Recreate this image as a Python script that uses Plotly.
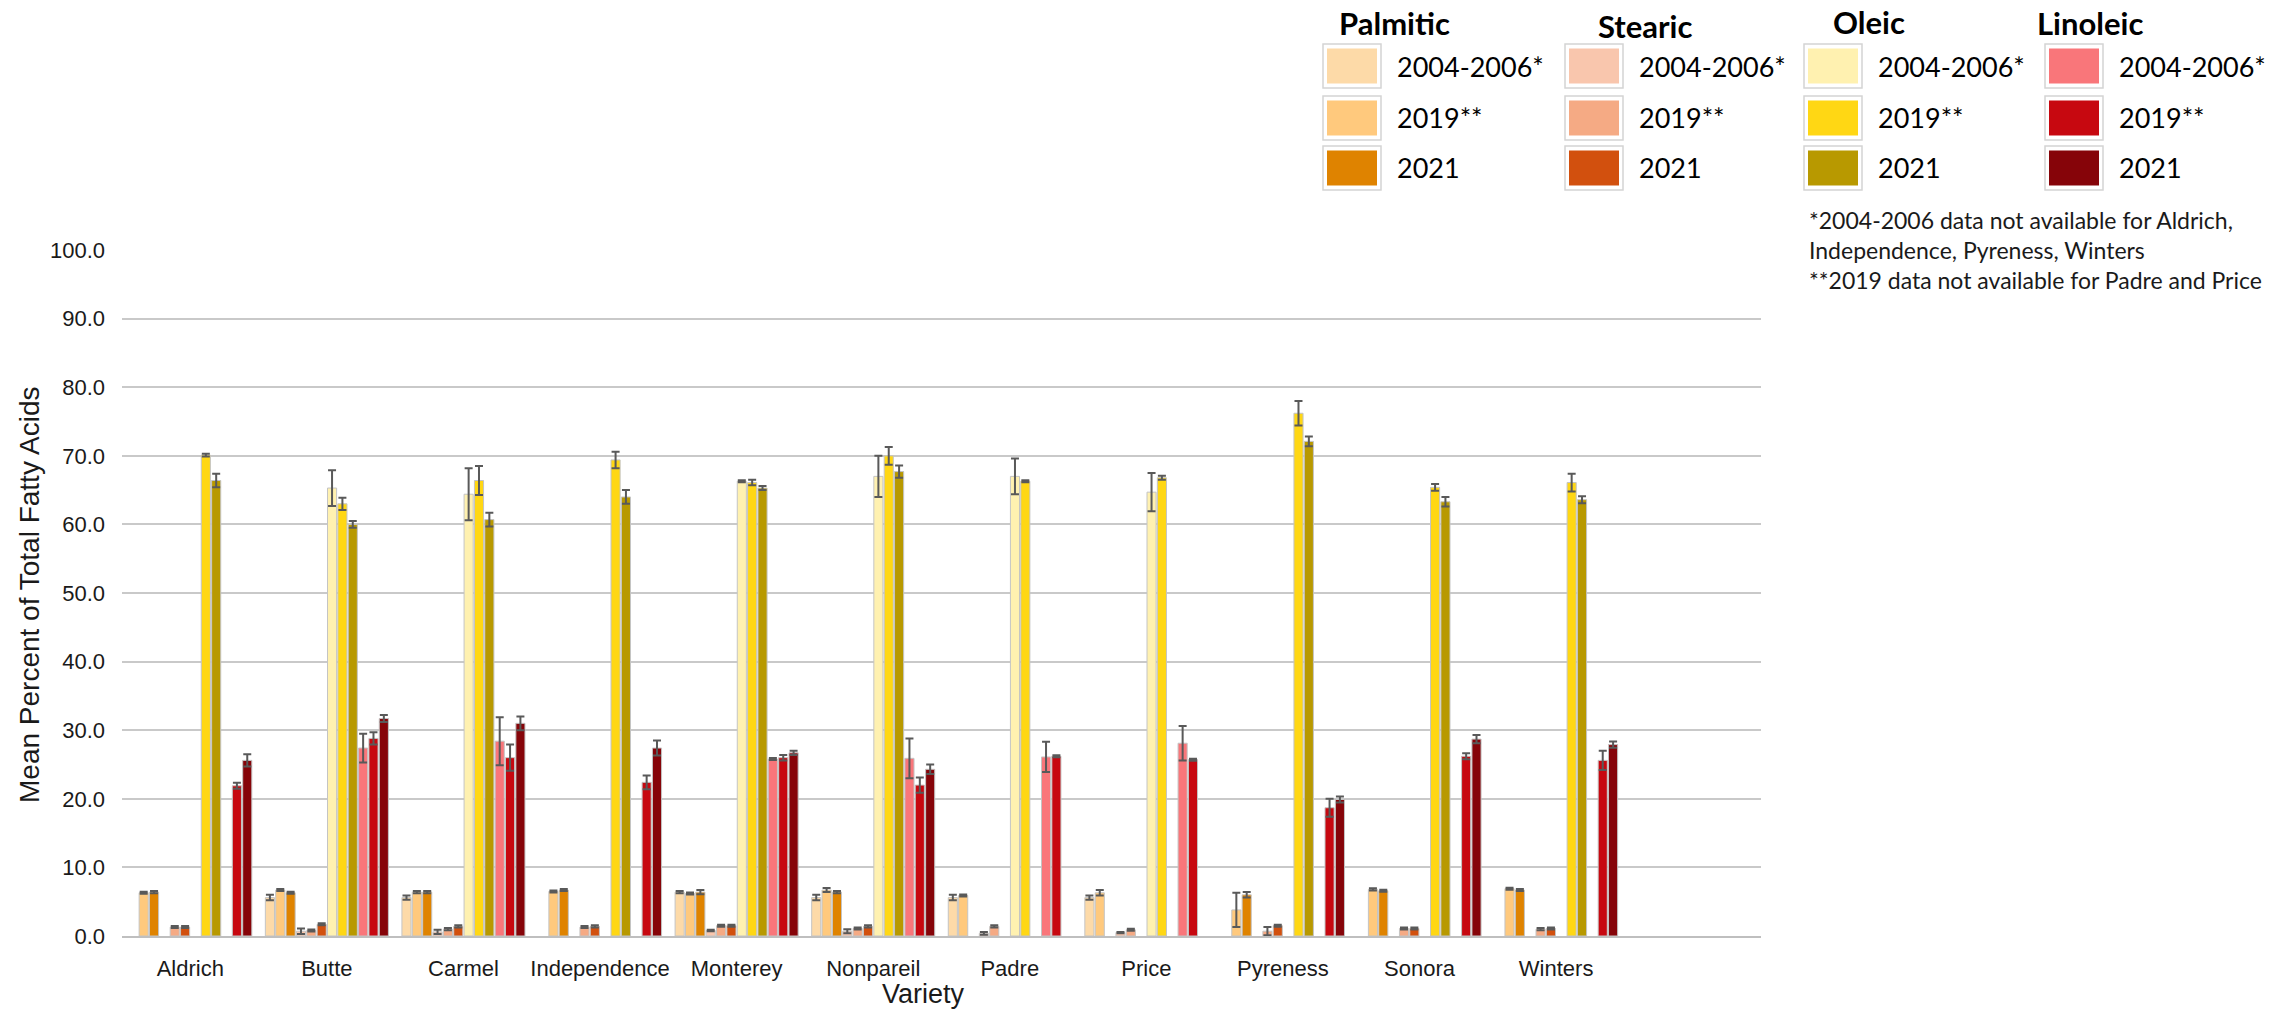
import plotly.graph_objects as go

# ---- data ----
varieties = ["Aldrich", "Butte", "Carmel", "Independence", "Monterey", "Nonpareil",
             "Padre", "Price", "Pyreness", "Sonora", "Winters"]
periods = ["2004-2006*", "2019**", "2021"]
acids = ["Palmitic", "Stearic", "Oleic", "Linoleic"]

palmitic_0406 = [None, 5.6, 5.6, None, 6.4, 5.6, 5.6, 5.6, None, None, None]
palmitic_2019 = [6.3, 6.7, 6.4, 6.5, 6.2, 6.7, 5.9, 6.3, 3.8, 6.8, 6.9]
palmitic_2021 = [6.4, 6.3, 6.4, 6.7, 6.4, 6.4, None, None, 6.0, 6.6, 6.7]

stearic_0406 = [None, 0.7, 0.6, None, 0.8, 0.7, 0.4, 0.5, None, None, None]
stearic_2019 = [1.3, 0.8, 1.0, 1.3, 1.5, 1.1, 1.4, 0.9, 0.7, 1.1, 1.0]
stearic_2021 = [1.3, 1.7, 1.4, 1.4, 1.5, 1.4, None, None, 1.5, 1.1, 1.1]

oleic_0406 = [None, 65.3, 64.4, None, 66.3, 67.0, 67.0, 64.7, None, None, None]
oleic_2019 = [70.1, 63.0, 66.4, 69.4, 66.1, 70.0, 66.3, 66.8, 76.2, 65.4, 66.1]
oleic_2021 = [66.4, 60.0, 60.7, 64.0, 65.3, 67.7, None, None, 72.1, 63.3, 63.6]

linoleic_0406 = [None, 27.4, 28.4, None, 25.8, 25.9, 26.1, 28.1, None, None, None]
linoleic_2019 = [21.9, 28.8, 26.0, 22.4, 26.0, 22.0, 26.2, 25.7, 18.7, 26.2, 25.6]
linoleic_2021 = [25.6, 31.7, 31.0, 27.4, 26.7, 24.3, None, None, 19.9, 28.7, 27.9]

# standard deviations (error bars)
palmitic_0406_err = [None, 0.4, 0.3, None, 0.15, 0.4, 0.4, 0.3, None, None, None]
palmitic_2019_err = [0.15, 0.15, 0.15, 0.15, 0.15, 0.3, 0.15, 0.4, 2.5, 0.15, 0.15]
palmitic_2021_err = [0.15, 0.15, 0.15, 0.15, 0.3, 0.15, None, None, 0.4, 0.15, 0.15]

stearic_0406_err = [None, 0.4, 0.3, None, 0.1, 0.3, 0.2, 0.1, None, None, None]
stearic_2019_err = [0.15, 0.15, 0.15, 0.15, 0.15, 0.15, 0.15, 0.15, 0.6, 0.15, 0.15]
stearic_2021_err = [0.15, 0.15, 0.15, 0.15, 0.15, 0.15, None, None, 0.15, 0.15, 0.15]

oleic_0406_err = [None, 2.6, 3.8, None, 0.15, 3.0, 2.6, 2.8, None, None, None]
oleic_2019_err = [0.2, 0.9, 2.1, 1.2, 0.4, 1.3, 0.15, 0.3, 1.8, 0.5, 1.3]
oleic_2021_err = [1.0, 0.5, 1.0, 1.0, 0.3, 0.9, None, None, 0.7, 0.7, 0.5]

linoleic_0406_err = [None, 2.1, 3.5, None, 0.15, 2.9, 2.2, 2.5, None, None, None]
linoleic_2019_err = [0.45, 0.9, 1.9, 1.0, 0.4, 1.1, 0.15, 0.15, 1.3, 0.45, 1.4]
linoleic_2021_err = [0.9, 0.5, 1.0, 1.1, 0.3, 0.7, None, None, 0.45, 0.6, 0.45]

notes = ["*2004-2006 data not available for Aldrich,",
         "Independence, Pyreness, Winters",
         "**2019 data not available for Padre and Price"]

# ---- styling ----
colors = {
    "Palmitic": ["#FDDAA8", "#FFC97D", "#DF8300"],
    "Stearic": ["#F9C6AD", "#F5AA84", "#D2500E"],
    "Oleic": ["#FFF1B0", "#FFD714", "#B89900"],
    "Linoleic": ["#F9767A", "#C70810", "#860409"],
}
series = {
    "Palmitic": [(palmitic_0406, palmitic_0406_err), (palmitic_2019, palmitic_2019_err), (palmitic_2021, palmitic_2021_err)],
    "Stearic": [(stearic_0406, stearic_0406_err), (stearic_2019, stearic_2019_err), (stearic_2021, stearic_2021_err)],
    "Oleic": [(oleic_0406, oleic_0406_err), (oleic_2019, oleic_2019_err), (oleic_2021, oleic_2021_err)],
    "Linoleic": [(linoleic_0406, linoleic_0406_err), (linoleic_2019, linoleic_2019_err), (linoleic_2021, linoleic_2021_err)],
}

W, H = 2290, 1013
L, R, T, B = 122, 1761, 250, 936   # plot area in pixels


def px(x):
    return (x - L) / (R - L)


def py(y):
    return (B - y) / (B - T)


AXIS_FONT = "Liberation Sans, Arial, sans-serif"
LEG_FONT = "Lato, Carlito, Calibri, sans-serif"
TEXT = "#1a1a1a"

fig = go.Figure()
xs = list(range(len(varieties)))
for acid in acids:
    for (vals, errs), period, col in zip(series[acid], periods, colors[acid]):
        fig.add_trace(go.Bar(
            x=xs, y=vals, name=f"{acid} {period}",
            marker=dict(color=col, line=dict(color="#C4C4C4", width=1)),
            error_y=dict(type="data", array=errs, color="#595959", thickness=2, width=4),
            showlegend=False,
        ))

fig.update_layout(
    width=W, height=H,
    margin=dict(l=L, r=W - R, t=T, b=H - B, pad=0),
    barmode="group", bargap=0.09, bargroupgap=0.12,
    plot_bgcolor="white", paper_bgcolor="white",
    font=dict(family=AXIS_FONT, color=TEXT),
)
fig.update_xaxes(
    range=[-0.5, 11.5], tickvals=xs, ticktext=varieties,
    showgrid=False, zeroline=False, ticks="",
    showline=True, linecolor="#BFBFBF", linewidth=2,
    tickfont=dict(size=22, color=TEXT, family=AXIS_FONT), ticklabelstandoff=12,
)
fig.update_yaxes(
    range=[0, 100], dtick=10, tickformat=".1f",
    showgrid=True, gridcolor="#C9C9C9", gridwidth=2,
    zeroline=False, showline=False, ticks="",
    tickfont=dict(size=22, color=TEXT, family=AXIS_FONT), ticklabelstandoff=16,
)

annotations = []
shapes = []

# axis titles
annotations.append(dict(text="Mean Percent of Total Fatty Acids", textangle=-90,
                        x=px(29), y=py(595), xref="paper", yref="paper",
                        xanchor="center", yanchor="middle", showarrow=False,
                        font=dict(size=28, family=AXIS_FONT, color=TEXT)))
annotations.append(dict(text="Variety", x=px(923), y=py(994), xref="paper", yref="paper",
                        xanchor="center", yanchor="middle", showarrow=False, borderpad=0,
                        font=dict(size=27, family=AXIS_FONT, color=TEXT)))

# grouped legend: one column per fatty acid
col_left = [1323, 1565, 1804, 2045]
title_pos = [(1394, 23), (1645, 26), (1869, 22), (2090, 23)]
row_cy = [66, 118, 168]
for acid, x0, (tx, ty) in zip(acids, col_left, title_pos):
    annotations.append(dict(text=f"<b>{acid}</b>", x=px(tx), y=py(ty), xref="paper", yref="paper",
                            xanchor="center", yanchor="middle", showarrow=False,
                            font=dict(size=31, family=LEG_FONT, color="#000000")))
    for period, col, cy in zip(periods, colors[acid], row_cy):
        shapes.append(dict(type="rect", xref="paper", yref="paper",
                           x0=px(x0), x1=px(x0 + 58), y0=py(cy + 22), y1=py(cy - 22),
                           fillcolor="white", line=dict(color="#D4D4D4", width=1.5)))
        shapes.append(dict(type="rect", xref="paper", yref="paper",
                           x0=px(x0 + 4), x1=px(x0 + 54), y0=py(cy + 17.5), y1=py(cy - 17.5),
                           fillcolor=col, line=dict(width=0)))
        annotations.append(dict(text=period, x=px(x0 + 72), y=py(cy), xref="paper", yref="paper",
                                xanchor="left", yanchor="middle", showarrow=False,
                                font=dict(size=27, family=LEG_FONT, color="#000000")))

# availability notes
annotations.append(dict(text="<br>".join(notes), x=px(1807), y=py(250), xref="paper", yref="paper",
                        xanchor="left", yanchor="middle", align="left", showarrow=False,
                        font=dict(size=23, family=LEG_FONT, color=TEXT)))

fig.update_layout(annotations=annotations, shapes=shapes)
fig.write_html("out.html")
